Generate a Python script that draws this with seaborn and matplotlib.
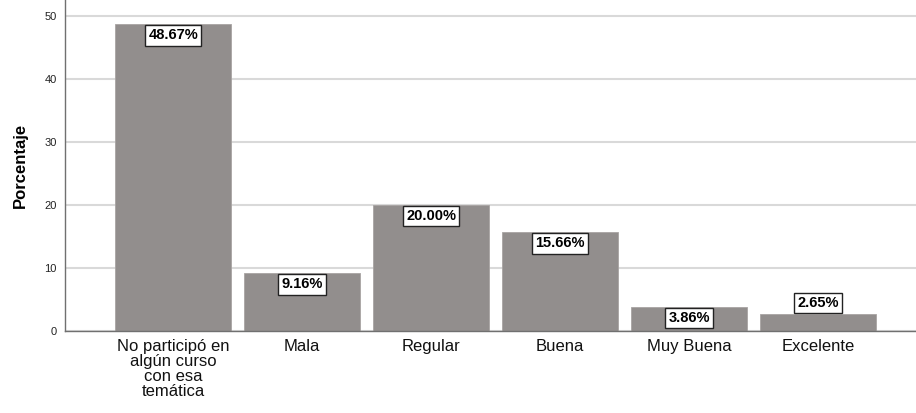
import matplotlib
matplotlib.use("Agg")
import pandas as pd
import matplotlib.pyplot as plt
import seaborn as sns

categories = ["No participó en\nalgún curso\ncon esa\ntemática", "Mala", "Regular",
              "Buena", "Muy Buena", "Excelente"]
values = [48.67, 9.16, 20.00, 15.66, 3.86, 2.65]
yticks = [0, 10, 20, 30, 40, 50]

df = pd.DataFrame({"categoria": categories, "porcentaje": values})

sns.set_style("white")
plt.rcParams['font.family'] = ['Liberation Sans', 'DejaVu Sans']

fig = plt.figure(figsize=(9.16, 4.13), dpi=100)
ax = fig.add_axes([0.071, 0.1985, 0.929, 0.8015])

sns.barplot(x='categoria', y='porcentaje', data=df, color='#928e8d',
            width=0.9, saturation=1, edgecolor='#a8a4a3', linewidth=0.6, ax=ax)

ax.set_xlim(-0.84, 5.76)
ax.set_ylim(0, 52.5)
ax.set_yticks(yticks)
ax.yaxis.grid(True, color='#d9d9d9', linewidth=1.5)
ax.set_axisbelow(True)

for s in ['top', 'right']:
    ax.spines[s].set_visible(False)
for s in ['left', 'bottom']:
    ax.spines[s].set_color('#707070')
    ax.spines[s].set_linewidth(1.0)

ax.tick_params(axis='y', length=0, pad=6, labelsize=8, labelcolor='#222222')
ax.tick_params(axis='x', length=0, pad=6, labelsize=12, labelcolor='#111111')
for lbl in ax.get_xticklabels():
    lbl.set_linespacing(1.0)
    lbl.set_verticalalignment('top')

ax.set_xlabel('')
ax.set_ylabel('Porcentaje', fontsize=12, fontweight='bold', color='black', labelpad=12)

for i, v in enumerate(values):
    if v > 3:
        off, va = -3, 'top'
    else:
        off, va = 3, 'bottom'
    ax.annotate(f"{v:.2f}%", xy=(i, v), xytext=(0, off), textcoords='offset points',
                ha='center', va=va, fontsize=10.5, fontweight='bold', color='black',
                bbox=dict(boxstyle='square,pad=0.22', facecolor='white',
                          edgecolor='#222222', linewidth=1))

fig.savefig('out.png', dpi=100)
